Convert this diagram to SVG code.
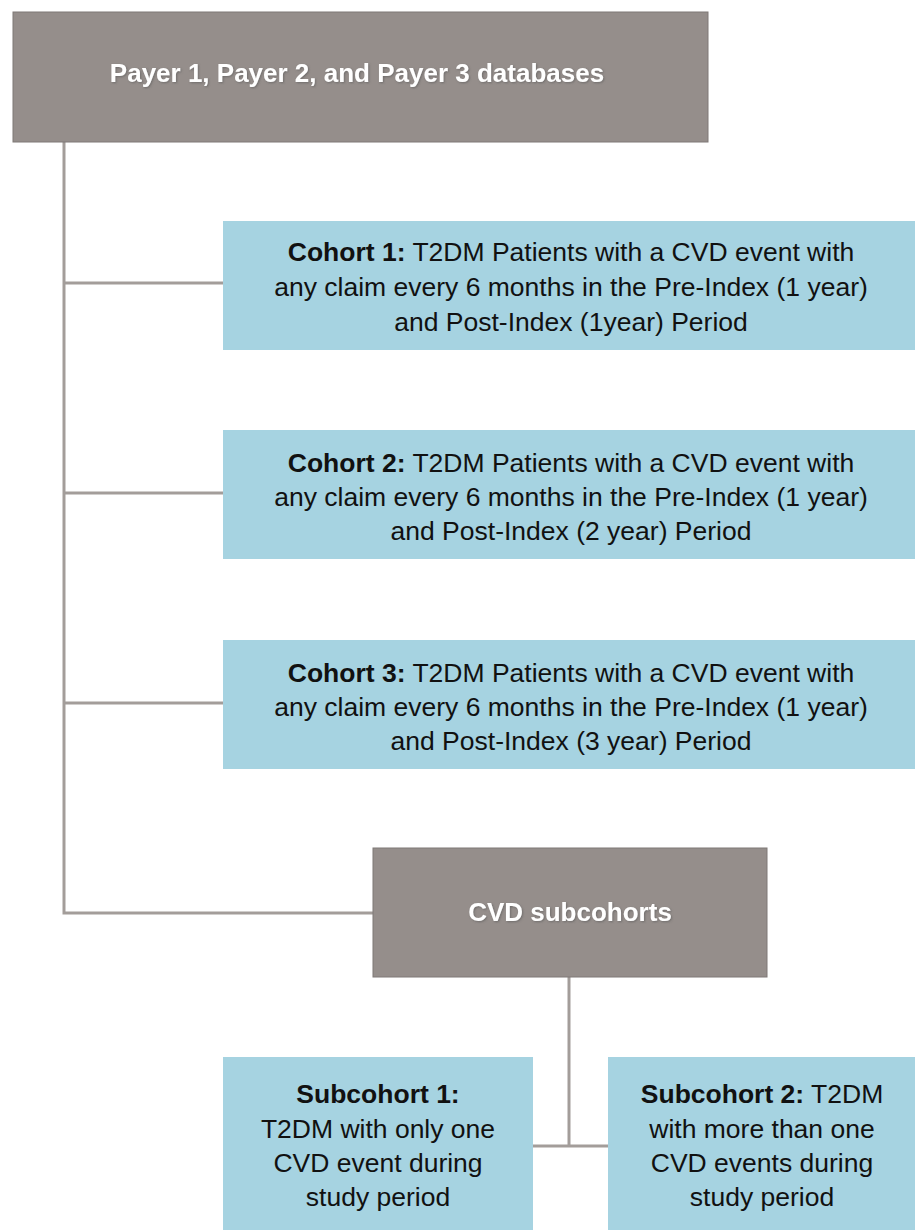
<svg xmlns="http://www.w3.org/2000/svg" width="915" height="1230" viewBox="0 0 915 1230">
<defs>
<filter id="sh" x="-5%" y="-20%" width="110%" height="140%">
<feDropShadow dx="1" dy="1" stdDeviation="0.8" flood-color="#555" flood-opacity="0.6"/>
</filter>
<style>
.gray{fill:#958e8b;stroke:#7f7976;stroke-width:1}
.blue{fill:#a6d3e1}
.conn{fill:none;stroke:#a39d9a;stroke-width:3}
.wt{font-family:"Liberation Sans",Arial,Helvetica,sans-serif;font-size:26px;font-weight:bold;fill:#ffffff;text-anchor:middle;filter:url(#sh)}
.bt{font-family:"Liberation Sans",Arial,Helvetica,sans-serif;font-size:26.5px;fill:#111111;text-anchor:middle}
.b{font-weight:bold}
</style>
</defs>
<rect width="915" height="1230" fill="#ffffff"/>
<g id="connectors">
<path class="conn" d="M64 142 V913 H373"/>
<path class="conn" d="M64 283 H223"/>
<path class="conn" d="M64 493 H223"/>
<path class="conn" d="M64 703 H223"/>
<path class="conn" d="M569 977 V1146"/>
<path class="conn" d="M533 1146 H608"/>
</g>
<g id="payers">
<rect class="gray" x="13" y="12" width="695" height="130"/>
<text class="wt" x="357" y="82">Payer 1, Payer 2, and Payer 3 databases</text>
</g>
<g id="cohort1">
<rect class="blue" x="223" y="221" width="692" height="129"/>
<text class="bt" x="571" y="261"><tspan class="b">Cohort 1:</tspan> T2DM Patients with a CVD event with</text>
<text class="bt" x="571" y="296">any claim every 6 months in the Pre-Index (1 year)</text>
<text class="bt" x="571" y="331">and Post-Index (1year) Period</text>
</g>
<g id="cohort2">
<rect class="blue" x="223" y="430" width="692" height="129"/>
<text class="bt" x="571" y="472"><tspan class="b">Cohort 2:</tspan> T2DM Patients with a CVD event with</text>
<text class="bt" x="571" y="506">any claim every 6 months in the Pre-Index (1 year)</text>
<text class="bt" x="571" y="540">and Post-Index (2 year) Period</text>
</g>
<g id="cohort3">
<rect class="blue" x="223" y="640" width="692" height="129"/>
<text class="bt" x="571" y="682"><tspan class="b">Cohort 3:</tspan> T2DM Patients with a CVD event with</text>
<text class="bt" x="571" y="716">any claim every 6 months in the Pre-Index (1 year)</text>
<text class="bt" x="571" y="750">and Post-Index (3 year) Period</text>
</g>
<g id="cvd">
<rect class="gray" x="373" y="848" width="394" height="129"/>
<text class="wt" x="570" y="921">CVD subcohorts</text>
</g>
<g id="subcohort1">
<rect class="blue" x="223" y="1057" width="310" height="173"/>
<text class="bt" x="378" y="1103"><tspan class="b">Subcohort 1:</tspan></text>
<text class="bt" x="378" y="1138">T2DM with only one</text>
<text class="bt" x="378" y="1172">CVD event during</text>
<text class="bt" x="378" y="1206">study period</text>
</g>
<g id="subcohort2">
<rect class="blue" x="608" y="1057" width="307" height="173"/>
<text class="bt" x="762" y="1103"><tspan class="b">Subcohort 2:</tspan> T2DM</text>
<text class="bt" x="762" y="1138">with more than one</text>
<text class="bt" x="762" y="1172">CVD events during</text>
<text class="bt" x="762" y="1206">study period</text>
</g>
</svg>
